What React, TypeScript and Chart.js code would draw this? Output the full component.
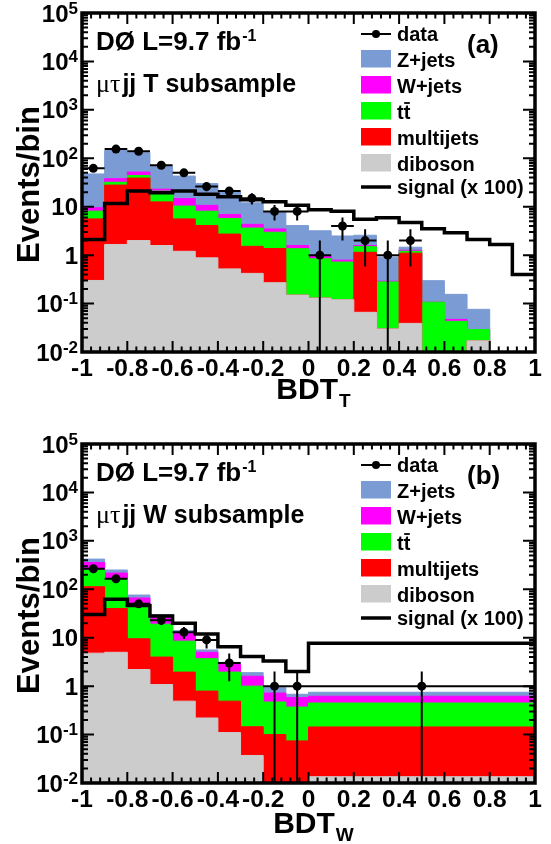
import React, { useEffect, useRef } from 'react';
import { Chart, registerables } from 'chart.js';
Chart.register(...registerables);

// ---------- Panel (a): BDT_T, mu tau jj T subsample ----------
const edgesT = [-1, -0.9, -0.8, -0.7, -0.6, -0.5, -0.4, -0.3, -0.2, -0.1, 0, 0.1, 0.2, 0.3, 0.4, 0.5, 0.6, 0.7, 0.8, 0.9, 1];
const dibosonT = [0.30, 1.66, 2.0, 1.58, 1.2, 0.88, 0.52, 0.42, 0.27, 0.15, 0.13, 0.12, 0.066, 0.030, 0.039, 0, 0, 0.017, 0, 0];
const multijetsT = [5.3, 26.3, 37, 11, 4.4, 3.2, 2.2, 1.1, 1.1, 0, 0, 0, 1.08, 0, 1.06, 0, 0, 0, 0, 0];
const ttbarT = [2.5, 4, 5, 8.4, 4.7, 4, 3, 2.1, 1.6, 1.21, 0.71, 0.6, 0.35, 0.25, 0.1, 0.107, 0.043, 0.012, 0, 0];
const wjetsT = [1.4, 6, 8, 2, 4.4, 2.6, 1.2, 0.7, 0.5, 0.22, 0.14, 0.07, 0.08, 0.01, 0.06, 0, 0.004, 0, 0, 0];
const zjetsT = [38, 107, 78, 45, 28.3, 19.3, 14.1, 7.7, 4.5, 2.5, 2.2, 1.7, 1.0, 0.62, 0.2, 0.19, 0.108, 0.047, 0, 0];
const dataT = [62, 155, 140, 72, 50, 26, 21, 15, 8, 8, 1, 4, 2, 1, 2, 0, 0, 0, 0, 0];
const signalT = [2.1, 11.7, 21, 19.5, 21, 18, 16, 14, 12.6, 10.7, 8.7, 8.1, 5.5, 5.9, 4.7, 3.5, 2.9, 2.1, 1.66, 0.4];

// ---------- Panel (b): BDT_W, mu tau jj W subsample ----------
const edgesW = [-1, -0.9, -0.8, -0.7, -0.6, -0.5, -0.4, -0.3, -0.2, -0.1, 0, 1];
const dibosonW = [4.8, 5.0, 2.2, 1.08, 0.49, 0.22, 0.11, 0.037, 0, 0, 0.0135];
const multijetsW = [108, 35, 7.3, 2.9, 1.46, 0.57, 0.38, 0.108, 0.10, 0.074, 0.13];
const ttbarW = [137, 122, 38.5, 15, 6.55, 2.9, 1.46, 0.855, 0.37, 0.296, 0.305];
const wjetsW = [107, 54, 18, 8, 3.9, 1.3, 0.85, 0.6, 0.25, 0.21, 0.17];
const zjetsW = [63, 34, 10, 3, 1.6, 0.6, 0.3, 0.3, 0.21, 0.10, 0.13];
const dataW = [265, 165, 50, 23, 13, 9, 3, 0, 1, 1, 1];
const signalW = [30, 62, 46, 28, 20, 12, 6.5, 4.1, 3.3, 2.0, 7.7];

// ---------- axes ----------
const xTickValues = [-1, -0.8, -0.6, -0.4, -0.2, 0, 0.2, 0.4, 0.6, 0.8, 1];
const xTickLabels = ['-1', '-0.8', '-0.6', '-0.4', '-0.2', '0', '0.2', '0.4', '0.6', '0.8', '1'];
const yTickExponents = [-2, -1, 0, 1, 2, 3, 4, 5];

const legendNames = ['data', 'Z+jets', 'W+jets', 'tt', 'multijets', 'diboson', 'signal (x 100)'];

const COL = {
  zjets: '#7b9bd5',
  wjets: '#ff00ff',
  ttbar: '#00ff00',
  multijets: '#ff0000',
  diboson: '#cccccc',
};

const SANS = '"Liberation Sans", Arial, Helvetica, sans-serif';
const SERIF = '"Liberation Serif", "DejaVu Serif", serif';

type Panel = {
  edges: number[];
  diboson: number[];
  multijets: number[];
  ttbar: number[];
  wjets: number[];
  zjets: number[];
  data: number[];
  signal: number[];
  tag: string;
  sub: string;
  sample: string;
  titleOff: number;
};

const panels: Panel[] = [
  { edges: edgesT, diboson: dibosonT, multijets: multijetsT, ttbar: ttbarT, wjets: wjetsT, zjets: zjetsT, data: dataT, signal: signalT, tag: '(a)', sub: 'T', sample: 'jj T subsample', titleOff: 47 },
  { edges: edgesW, diboson: dibosonW, multijets: multijetsW, ttbar: ttbarW, wjets: wjetsW, zjets: zjetsW, data: dataW, signal: signalW, tag: '(b)', sub: 'W', sample: 'jj W subsample', titleOff: 50 },
];

function cumulative(layers: number[][]): number[][] {
  const out: number[][] = [];
  let acc = layers[0].map(() => 0);
  for (const l of layers) {
    acc = acc.map((a, i) => a + l[i]);
    out.push(acc.slice());
  }
  return out;
}

function stepPoints(edges: number[], vals: number[]) {
  const pts = vals.map((v, i) => ({ x: edges[i], y: Math.max(v, 1e-4) }));
  pts.push({ x: edges[edges.length - 1], y: Math.max(vals[vals.length - 1], 1e-4) });
  return pts;
}

function makeDecor(p: Panel) {
  return {
    id: 'decor',
    afterDatasetsDraw(chart: any) {
      const ctx: CanvasRenderingContext2D = chart.ctx;
      const xs = chart.scales.x;
      const ys = chart.scales.y;
      const a = chart.chartArea;
      ctx.save();
      ctx.beginPath();
      ctx.rect(a.left, a.top, a.right - a.left, a.bottom - a.top);
      ctx.clip();
      ctx.strokeStyle = '#000';
      ctx.lineWidth = 2;
      ctx.beginPath();
      p.data.forEach((n, i) => {
        if (n <= 0) return;
        const x0 = xs.getPixelForValue(p.edges[i]);
        const x1 = xs.getPixelForValue(p.edges[i + 1]);
        const xc = xs.getPixelForValue((p.edges[i] + p.edges[i + 1]) / 2);
        const yc = ys.getPixelForValue(n);
        const e = Math.sqrt(n);
        const yTop = ys.getPixelForValue(n + e);
        const lo = n - e;
        const yBot = lo > ys.min ? ys.getPixelForValue(lo) : a.bottom;
        ctx.moveTo(x0, yc);
        ctx.lineTo(x1, yc);
        ctx.moveTo(xc, yTop);
        ctx.lineTo(xc, yBot);
      });
      ctx.stroke();
      ctx.restore();
    },
    afterDraw(chart: any) {
      const ctx: CanvasRenderingContext2D = chart.ctx;
      const xs = chart.scales.x;
      const ys = chart.scales.y;
      const a = chart.chartArea;
      const t = a.top;
      ctx.save();
      ctx.strokeStyle = '#000';
      ctx.fillStyle = '#000';

      // ticks
      ctx.lineWidth = 2;
      ctx.beginPath();
      for (let k = 0; k <= 50; k++) {
        const v = -1 + k * 0.04;
        const px = xs.getPixelForValue(v);
        const len = k % 5 === 0 ? 11 : 5.5;
        ctx.moveTo(px, a.bottom);
        ctx.lineTo(px, a.bottom - len);
        ctx.moveTo(px, a.top);
        ctx.lineTo(px, a.top + len);
      }
      for (let e = -2; e <= 5; e++) {
        for (let m = 1; m <= 9; m++) {
          if (e === 5 && m > 1) break;
          const v = m * Math.pow(10, e);
          const py = ys.getPixelForValue(v);
          const len = m === 1 ? 12 : 6;
          ctx.moveTo(a.left, py);
          ctx.lineTo(a.left + len, py);
          ctx.moveTo(a.right, py);
          ctx.lineTo(a.right - len, py);
        }
      }
      ctx.stroke();

      // frame
      ctx.lineWidth = 3.5;
      ctx.strokeRect(a.left, a.top, a.right - a.left, a.bottom - a.top);

      // y tick labels
      ctx.textBaseline = 'alphabetic';
      yTickExponents.forEach((e) => {
        const py = ys.getPixelForValue(Math.pow(10, e));
        const right = a.left - 4;
        if (e === 0 || e === 1) {
          ctx.font = `bold 24px ${SANS}`;
          ctx.textAlign = 'right';
          ctx.fillText(e === 0 ? '1' : '10', right, py + 8.5);
        } else {
          ctx.font = `bold 17px ${SANS}`;
          const sup = String(e);
          const ws = ctx.measureText(sup).width;
          ctx.textAlign = 'right';
          ctx.fillText(sup, right, py + 0.5);
          ctx.font = `bold 24px ${SANS}`;
          ctx.fillText('10', right - ws, py + 8.5);
        }
      });

      // x tick labels
      ctx.font = `bold 24.5px ${SANS}`;
      ctx.textAlign = 'center';
      xTickValues.forEach((v, i) => {
        ctx.fillText(xTickLabels[i], xs.getPixelForValue(v), a.bottom + 24);
      });

      // x title
      ctx.font = `bold 30px ${SANS}`;
      const wB = ctx.measureText('BDT').width;
      ctx.font = `bold 19px ${SANS}`;
      const wS = ctx.measureText(p.sub).width;
      const cx = (a.left + a.right) / 2 + 5;
      const x0 = cx - (wB + wS + 1) / 2;
      ctx.textAlign = 'left';
      ctx.font = `bold 30px ${SANS}`;
      ctx.fillText('BDT', x0, a.bottom + p.titleOff);
      ctx.font = `bold 19px ${SANS}`;
      ctx.fillText(p.sub, x0 + wB + 1, a.bottom + p.titleOff + 8);

      // y title
      ctx.save();
      ctx.translate(39, (a.top + a.bottom) / 2 + 2);
      ctx.rotate(-Math.PI / 2);
      ctx.font = `bold 31px ${SANS}`;
      ctx.textAlign = 'center';
      ctx.fillText('Events/bin', 0, 0);
      ctx.restore();

      // top-left labels
      ctx.textAlign = 'left';
      ctx.font = `bold 26px ${SANS}`;
      const lumi = 'D\u00d8 L=9.7 fb';
      ctx.fillText(lumi, 96, t + 36.5);
      const wl = ctx.measureText(lumi).width;
      ctx.font = `bold 16px ${SANS}`;
      ctx.fillText('-1', 96 + wl + 1, t + 28);

      ctx.font = `26px ${SERIF}`;
      const greek = '\u03bc\u03c4';
      ctx.fillText(greek, 96, t + 79);
      const wg = ctx.measureText(greek).width;
      ctx.font = `bold 25px ${SANS}`;
      ctx.fillText(p.sample, 96 + wg + 2, t + 79);

      // panel tag
      ctx.font = `bold 26px ${SANS}`;
      ctx.fillText(p.tag, 467, t + 40);

      // legend
      const LX = 361;
      const LW = 30;
      const TX = 397;
      ctx.font = `bold 20px ${SANS}`;
      // data
      ctx.lineWidth = 2;
      ctx.beginPath();
      ctx.moveTo(LX, t + 21);
      ctx.lineTo(LX + LW, t + 21);
      ctx.stroke();
      ctx.beginPath();
      ctx.arc(LX + LW / 2, t + 21, 4, 0, Math.PI * 2);
      ctx.fill();
      ctx.fillText(legendNames[0], TX, t + 28);
      const boxes: [string, string, number][] = [
        [legendNames[1], COL.zjets, 37],
        [legendNames[2], COL.wjets, 63],
        [legendNames[3], COL.ttbar, 89],
        [legendNames[4], COL.multijets, 115],
        [legendNames[5], COL.diboson, 141],
      ];
      boxes.forEach(([name, col, off]) => {
        ctx.fillStyle = col;
        ctx.fillRect(LX, t + off, LW, 17.5);
        ctx.fillStyle = '#000';
        ctx.fillText(name, TX, t + off + 16.5);
        if (name === 'tt') {
          const w1 = ctx.measureText('t').width;
          ctx.lineWidth = 1.8;
          ctx.beginPath();
          ctx.moveTo(TX + w1 + 0.5, t + off + 1);
          ctx.lineTo(TX + 2 * w1 - 0.5, t + off + 1);
          ctx.stroke();
        }
      });
      // signal
      ctx.lineWidth = 3.5;
      ctx.beginPath();
      ctx.moveTo(LX, t + 174);
      ctx.lineTo(LX + LW, t + 174);
      ctx.stroke();
      ctx.fillText(legendNames[6], TX, t + 180.5);

      ctx.restore();
    },
  };
}

function makeConfig(p: Panel, pad: { top: number; bottom: number; left: number; right: number }) {
  const layers = [p.diboson, p.multijets, p.ttbar, p.wjets, p.zjets];
  const cum = cumulative(layers);
  const colors = [COL.diboson, COL.multijets, COL.ttbar, COL.wjets, COL.zjets];
  const names = ['diboson', 'multijets', 'tt', 'W+jets', 'Z+jets'];
  const stackSets = cum.map((vals, k) => ({
    type: 'line',
    label: names[k],
    data: stepPoints(p.edges, vals),
    stepped: 'before',
    fill: 'start',
    backgroundColor: colors[k],
    borderColor: colors[k],
    borderWidth: 1,
    pointRadius: 0,
    pointHoverRadius: 0,
    order: 2 + k,
  }));
  const signalSet = {
    type: 'line',
    label: 'signal (x 100)',
    data: stepPoints(p.edges, p.signal),
    stepped: 'before',
    fill: false,
    borderColor: '#000',
    backgroundColor: '#000',
    borderWidth: 3.5,
    borderJoinStyle: 'miter',
    borderCapStyle: 'butt',
    pointRadius: 0,
    pointHoverRadius: 0,
    order: 1,
  };
  const dataSet = {
    type: 'line',
    label: 'data',
    data: p.data.map((n, i) => ({ x: (p.edges[i] + p.edges[i + 1]) / 2, y: n > 0 ? n : null })),
    showLine: false,
    pointRadius: 4.5,
    pointHoverRadius: 4.5,
    pointBackgroundColor: '#000',
    pointBorderColor: '#000',
    pointBorderWidth: 0,
    order: 0,
  };
  return {
    type: 'line',
    data: { datasets: [dataSet, signalSet, ...stackSets] },
    options: {
      responsive: false,
      maintainAspectRatio: false,
      animation: false,
      devicePixelRatio: 1,
      layout: { padding: pad },
      events: [],
      plugins: { legend: { display: false }, tooltip: { enabled: false }, title: { display: false } },
      scales: {
        x: { type: 'linear', min: -1, max: 1, display: false },
        y: { type: 'logarithmic', min: 0.01, max: 1e5, display: false },
      },
    },
    plugins: [makeDecor(p)],
  } as any;
}

export default function App() {
  const refA = useRef<HTMLCanvasElement>(null);
  const refB = useRef<HTMLCanvasElement>(null);
  useEffect(() => {
    const pads = [
      { top: 13, bottom: 78, left: 82, right: 16 },
      { top: 14, bottom: 61, left: 82, right: 16 },
    ];
    const charts = [refA, refB].map((r, i) => new Chart(r.current as HTMLCanvasElement, makeConfig(panels[i], pads[i])));
    return () => charts.forEach((c) => c.destroy());
  }, []);
  return (
    <div style={{ position: 'absolute', left: 0, top: 0, width: 551, height: 844, background: '#fff' }}>
      <canvas ref={refA} width={551} height={430} style={{ position: 'absolute', left: 0, top: 0, width: 551, height: 430 }} />
      <canvas ref={refB} width={551} height={414} style={{ position: 'absolute', left: 0, top: 430, width: 551, height: 414 }} />
    </div>
  );
}
